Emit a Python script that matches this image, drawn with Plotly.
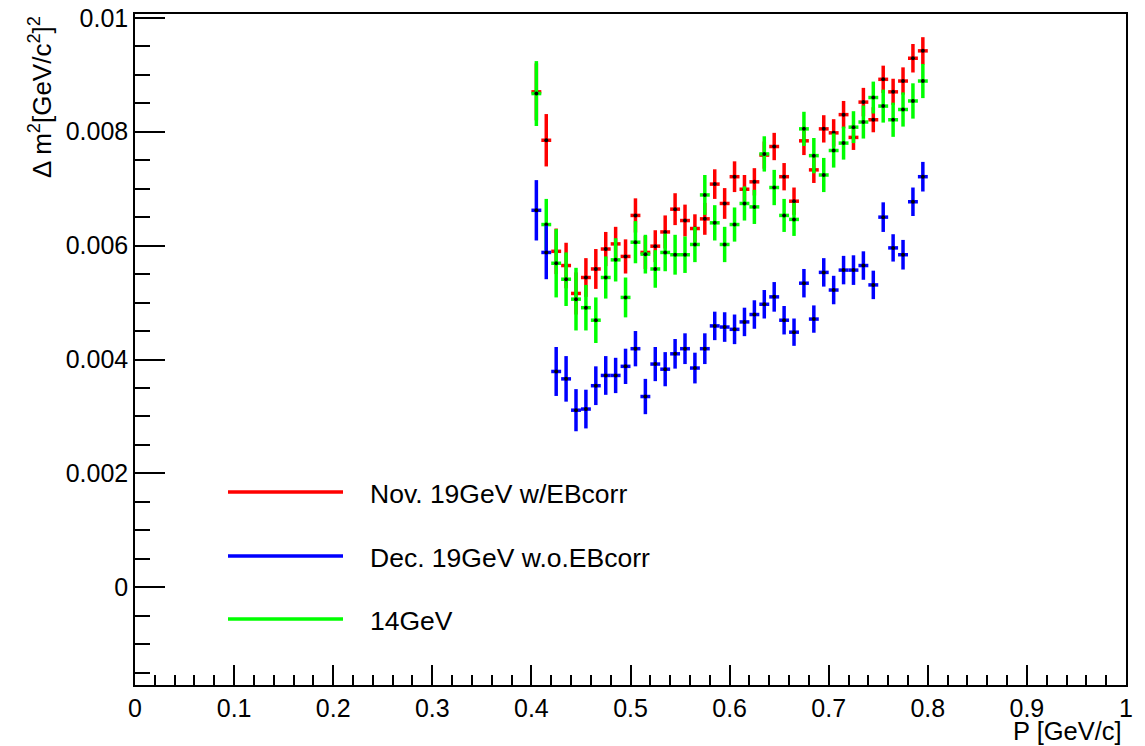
import plotly.graph_objects as go

# Momentum bin centres [GeV/c]
p_bins = [0.405, 0.415, 0.425, 0.435, 0.445, 0.455, 0.465, 0.475, 0.485, 0.495,
          0.505, 0.515, 0.525, 0.535, 0.545, 0.555, 0.565, 0.575, 0.585, 0.595,
          0.605, 0.615, 0.625, 0.635, 0.645, 0.655, 0.665, 0.675, 0.685, 0.695,
          0.705, 0.715, 0.725, 0.735, 0.745, 0.755, 0.765, 0.775, 0.785, 0.795]
bin_half_width = 0.005

# Nov. 19GeV with EB correction
nov_dm2 = [0.00870, 0.00785, 0.00590, 0.00565, 0.00516, 0.00544, 0.00559, 0.00594, 0.00603, 0.00581,
           0.00653, 0.00588, 0.00599, 0.00624, 0.00664, 0.00644, 0.00630, 0.00647, 0.00708, 0.00674,
           0.00721, 0.00699, 0.00712, 0.00759, 0.00774, 0.00721, 0.00678, 0.00784, 0.00733, 0.00805,
           0.00798, 0.00830, 0.00790, 0.00852, 0.00821, 0.00892, 0.00870, 0.00889, 0.00929, 0.00942]
nov_err = [0.00050, 0.00046, 0.00040, 0.00040, 0.00037, 0.00034, 0.00035, 0.00030, 0.00030, 0.00030,
           0.00030, 0.00029, 0.00028, 0.00029, 0.00028, 0.00028, 0.00025, 0.00028, 0.00026, 0.00027,
           0.00027, 0.00025, 0.00024, 0.00024, 0.00024, 0.00024, 0.00024, 0.00025, 0.00023, 0.00024,
           0.00024, 0.00024, 0.00022, 0.00025, 0.00022, 0.00024, 0.00023, 0.00024, 0.00025, 0.00024]

# Dec. 19GeV without EB correction
dec_dm2 = [0.00662, 0.00588, 0.00379, 0.00366, 0.00311, 0.00313, 0.00354, 0.00372, 0.00372, 0.00388,
           0.00419, 0.00335, 0.00392, 0.00383, 0.00410, 0.00419, 0.00385, 0.00419, 0.00459, 0.00457,
           0.00453, 0.00466, 0.00479, 0.00497, 0.00510, 0.00469, 0.00448, 0.00534, 0.00471, 0.00553,
           0.00522, 0.00557, 0.00557, 0.00565, 0.00531, 0.00650, 0.00596, 0.00584, 0.00677, 0.00721]
dec_err = [0.00053, 0.00047, 0.00043, 0.00040, 0.00037, 0.00034, 0.00034, 0.00034, 0.00031, 0.00031,
           0.00031, 0.00031, 0.00030, 0.00030, 0.00026, 0.00027, 0.00027, 0.00027, 0.00025, 0.00026,
           0.00026, 0.00025, 0.00025, 0.00025, 0.00026, 0.00025, 0.00024, 0.00025, 0.00024, 0.00025,
           0.00025, 0.00025, 0.00026, 0.00025, 0.00025, 0.00026, 0.00024, 0.00026, 0.00025, 0.00026]

# 14GeV
g14_dm2 = [0.00867, 0.00637, 0.00569, 0.00541, 0.00506, 0.00491, 0.00469, 0.00544, 0.00575, 0.00509,
           0.00606, 0.00585, 0.00559, 0.00588, 0.00584, 0.00584, 0.00602, 0.00689, 0.00640, 0.00602,
           0.00637, 0.00674, 0.00668, 0.00761, 0.00702, 0.00653, 0.00646, 0.00805, 0.00758, 0.00724,
           0.00767, 0.00780, 0.00808, 0.00817, 0.00860, 0.00845, 0.00821, 0.00839, 0.00854, 0.00889]
g14_err = [0.00057, 0.00045, 0.00060, 0.00047, 0.00055, 0.00040, 0.00040, 0.00037, 0.00038, 0.00035,
           0.00037, 0.00034, 0.00033, 0.00033, 0.00035, 0.00032, 0.00031, 0.00035, 0.00031, 0.00031,
           0.00030, 0.00030, 0.00030, 0.00031, 0.00031, 0.00029, 0.00029, 0.00030, 0.00031, 0.00030,
           0.00030, 0.00029, 0.00028, 0.00029, 0.00028, 0.00029, 0.00030, 0.00030, 0.00031, 0.00030]

legend_labels = ["Nov. 19GeV w/EBcorr", "Dec. 19GeV w.o.EBcorr", "14GeV"]
x_ticks = [0, 0.1, 0.2, 0.3, 0.4, 0.5, 0.6, 0.7, 0.8, 0.9, 1]
x_ticktext = ["0", "0.1", "0.2", "0.3", "0.4", "0.5", "0.6", "0.7", "0.8", "0.9", "1"]
y_ticks = [0, 0.002, 0.004, 0.006, 0.008, 0.01]
y_ticktext = ["0", "0.002", "0.004", "0.006", "0.008", "0.01"]

RED, BLUE, GREEN = "#ff0000", "#0000ff", "#00ff00"
FONT = "Liberation Sans, Arial, Helvetica, sans-serif"


def graph(y, err, color, name):
    return go.Scatter(
        x=p_bins, y=y, mode="markers", name=name, showlegend=False,
        marker=dict(color="black", size=4),
        error_y=dict(type="data", array=err, color=color, thickness=3.5, width=0),
        error_x=dict(type="data", array=[bin_half_width] * len(p_bins),
                     color=color, thickness=3.5, width=0),
    )


fig = go.Figure()
# drawing order: Nov, 14GeV, Dec (blue on top)
fig.add_trace(graph(nov_dm2, nov_err, RED, legend_labels[0]))
fig.add_trace(graph(g14_dm2, g14_err, GREEN, legend_labels[2]))
fig.add_trace(graph(dec_dm2, dec_err, BLUE, legend_labels[1]))

W, H = 1145, 746
ml, mr, mt, mb = 135, 19, 14, 61
pw, ph = W - ml - mr, H - mt - mb

fig.update_layout(
    width=W, height=H,
    margin=dict(l=ml, r=mr, t=mt, b=mb, pad=0, autoexpand=False),
    paper_bgcolor="white", plot_bgcolor="white",
    font=dict(family=FONT, size=25, color="black"),
    xaxis=dict(
        range=[0, 1], showgrid=False, zeroline=False, automargin=False,
        showline=True, linecolor="black", linewidth=1.5, mirror=True,
        ticks="inside", ticklen=20, tickwidth=1.5, tickcolor="black",
        tickvals=x_ticks, ticktext=x_ticktext,
        minor=dict(ticks="inside", ticklen=10, tickwidth=1.5, tickcolor="black", dtick=0.02, tick0=0, showgrid=False),
        tickfont=dict(size=25),
    ),
    yaxis=dict(
        range=[-0.0017155, 0.010067], showgrid=False, zeroline=False, automargin=False,
        showline=True, linecolor="black", linewidth=1.5, mirror=True,
        ticks="inside", ticklen=30, tickwidth=1.5, tickcolor="black",
        tickvals=y_ticks, ticktext=y_ticktext,
        minor=dict(ticks="inside", ticklen=15, tickwidth=1.5, tickcolor="black", dtick=0.0005, tick0=0, showgrid=False),
        tickfont=dict(size=25),
    ),
)


def px_x(px):
    return (px - ml) / pw


def px_y(py):
    return (H - mb - py) / ph


annotations = [
    dict(text="P [GeV/c]", xref="paper", yref="paper", x=px_x(1124), y=px_y(731),
         xanchor="right", yanchor="middle", showarrow=False, font=dict(size=25.5)),
    dict(text="Δ m<sup>2</sup>[GeV/c<sup>2</sup>]<sup>2</sup>", xref="paper", yref="paper",
         x=px_x(40), y=px_y(14), textangle=-90, xanchor="center", yanchor="top",
         showarrow=False, font=dict(size=26)),
]

shapes = []
legend_rows = [(legend_labels[0], RED, 492), (legend_labels[1], BLUE, 556), (legend_labels[2], GREEN, 619)]
for label, color, row in legend_rows:
    shapes.append(dict(type="line", xref="paper", yref="paper",
                       x0=px_x(228), x1=px_x(343), y0=px_y(row), y1=px_y(row),
                       line=dict(color=color, width=3.5)))
    annotations.append(dict(text=label, xref="paper", yref="paper", x=px_x(368), y=px_y(row + 2),
                            xanchor="left", yanchor="middle", showarrow=False, font=dict(size=26.5)))

fig.update_layout(annotations=annotations, shapes=shapes)
fig.write_html("out.html")
